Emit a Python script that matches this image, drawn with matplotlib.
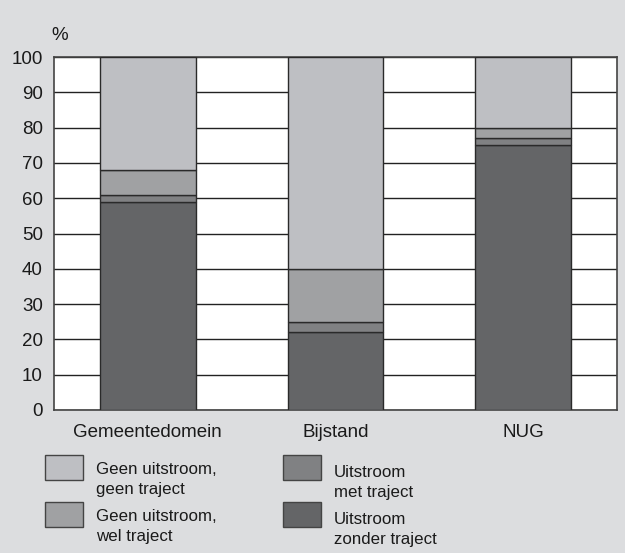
import matplotlib.pyplot as plt
import matplotlib.patches as mpatches
import numpy as np

plt.rcParams['font.family'] = ['Liberation Sans', 'DejaVu Sans']

categories = ["Gemeentedomein", "Bijstand", "NUG"]
zonder_traject = [59, 22, 75]
met_traject = [2, 3, 2]
wel_traject = [7, 15, 3]
geen_traject = [32, 60, 20]

series = [zonder_traject, met_traject, wel_traject, geen_traject]
colors = ["#646567", "#808183", "#a0a1a3", "#bebfc3"]

legend_labels = ["Geen uitstroom,\ngeen traject", "Geen uitstroom,\nwel traject",
                 "Uitstroom\nmet traject", "Uitstroom\nzonder traject"]
legend_colors = ["#bebfc3", "#a0a1a3", "#808183", "#646567"]

bg = "#dcdddf"
fig = plt.figure(figsize=(6.25, 5.53), dpi=100, facecolor=bg)
ax = fig.add_axes([54 / 625, 1 - 410 / 553, 563 / 625, 353 / 553])
ax.set_facecolor("white")

x = np.arange(len(categories))
bottom = np.zeros(len(categories))
for vals, c in zip(series, colors):
    ax.bar(x, vals, width=0.51, bottom=bottom, color=c, edgecolor="#2a2a2a",
           linewidth=1.0, zorder=3)
    bottom += np.array(vals)

ax.set_xlim(-0.5, 2.5)
ax.set_ylim(0, 100)
ax.set_yticks(np.arange(0, 101, 10))
ax.set_xticks(x)
ax.set_xticklabels(categories)
ax.tick_params(axis="both", length=0, labelsize=13.5, colors="#1a1a1a")
ax.tick_params(axis="y", pad=8)
ax.tick_params(axis="x", pad=10)
ax.yaxis.grid(True, color="#222222", linewidth=1.0, zorder=0)
ax.set_axisbelow(True)
for s in ax.spines.values():
    s.set_color("#444444")
    s.set_linewidth(1.2)

fig.text(60 / 625, 1 - 36 / 553, "%", fontsize=13.5, color="#1a1a1a",
         ha="center", va="center")

# legend, laid out in two columns below the chart
col_x = [45, 283]
row_y = [455, 502]
for i, (lab, c) in enumerate(zip(legend_labels, legend_colors)):
    cx = col_x[i // 2]
    ry = row_y[i % 2]
    rect = mpatches.Rectangle((cx / 625, 1 - (ry + 25) / 553), 38 / 625, 25 / 553,
                              transform=fig.transFigure, facecolor=c,
                              edgecolor="#444444", linewidth=1.0)
    fig.add_artist(rect)
    dy = 3 if i // 2 == 1 else 0
    fig.text((cx + 51) / 625, 1 - (ry + 7 + dy) / 553, lab, fontsize=12.2,
             color="#1a1a1a", ha="left", va="top", linespacing=1.45)

fig.savefig("out.png", dpi=100, facecolor=bg)
